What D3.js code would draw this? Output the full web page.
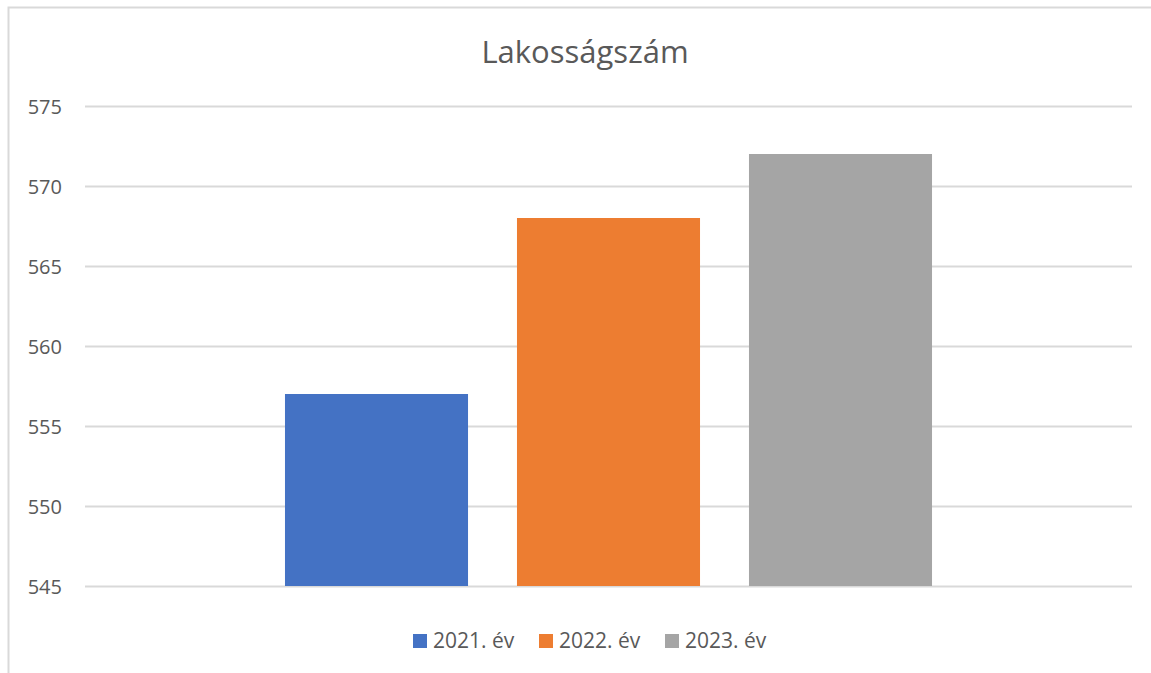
<!DOCTYPE html>
<html>
<head>
<meta charset="utf-8">
<script src="https://cdn.jsdelivr.net/npm/d3@7"></script>
<style>
  body { margin: 0; background: #fff; }
  svg { display: block; font-family: "Open Sans", sans-serif; }
  .tick text { fill: #595959; font-size: 20px; }
  .tick line { stroke: #d9d9d9; stroke-width: 2; }
</style>
</head>
<body>
<div class="svg-wrapper"></div>
<script>
const title = "Lakosságszám";
const series = ["2021. év", "2022. év", "2023. év"];
const values = [557, 568, 572];
const colors = ["#4472c4", "#ed7d31", "#a5a5a5"];
const yTicks = [545, 550, 555, 560, 565, 570, 575];

const width = 1151, height = 673;
const margin = {top: 106, right: 19, bottom: 87, left: 85};
const innerWidth = width - margin.left - margin.right;
const innerHeight = height - margin.top - margin.bottom;

const svg = d3.select(".svg-wrapper")
  .append("svg")
  .attr("width", width)
  .attr("height", height);

// chart frame: only the top and left edges are inside the picture
svg.append("path")
  .attr("d", `M8.5,${height} L8.5,7.5 L${width},7.5`)
  .attr("fill", "none")
  .attr("stroke", "#d9d9d9")
  .attr("stroke-width", 2);

svg.append("text")
  .attr("x", 585)
  .attr("y", 63)
  .attr("text-anchor", "middle")
  .attr("fill", "#595959")
  .style("font-size", "31px")
  .text(title);

const g = svg.append("g")
  .attr("transform", `translate(${margin.left},${margin.top})`);

const yScale = d3.scaleLinear()
  .domain([545, 575])
  .range([innerHeight, 0]);

const xScale = d3.scaleBand()
  .domain(series)
  .range([0, innerWidth])
  .paddingInner(0.211)
  .paddingOuter(0.862);

const yAxis = d3.axisLeft(yScale)
  .tickValues(yTicks)
  .tickSize(-innerWidth)
  .tickPadding(23);

const yAxisG = g.append("g").call(yAxis)
  .attr("font-family", null)
  .attr("font-size", null);
yAxisG.select(".domain").remove();
yAxisG.selectAll(".tick text").attr("dy", "0.35em");

g.selectAll("rect.bar")
  .data(series)
  .enter()
  .append("rect")
    .attr("class", "bar")
    .attr("x", d => xScale(d))
    .attr("width", xScale.bandwidth())
    .attr("y", (d, i) => yScale(values[i]))
    .attr("height", (d, i) => yScale(545) - yScale(values[i]))
    .attr("fill", (d, i) => colors[i]);

// legend
const legendX = [413, 539, 665];
const legend = svg.append("g").attr("transform", "translate(0,634)");
series.forEach(function(s, i){
  legend.append("rect")
    .attr("x", legendX[i])
    .attr("y", 0)
    .attr("width", 14)
    .attr("height", 14)
    .attr("fill", colors[i]);
  legend.append("text")
    .attr("x", legendX[i] + 20)
    .attr("y", 7)
    .attr("dy", "0.35em")
    .attr("fill", "#595959")
    .style("font-size", "21px")
    .text(s);
});
</script>
</body>
</html>
